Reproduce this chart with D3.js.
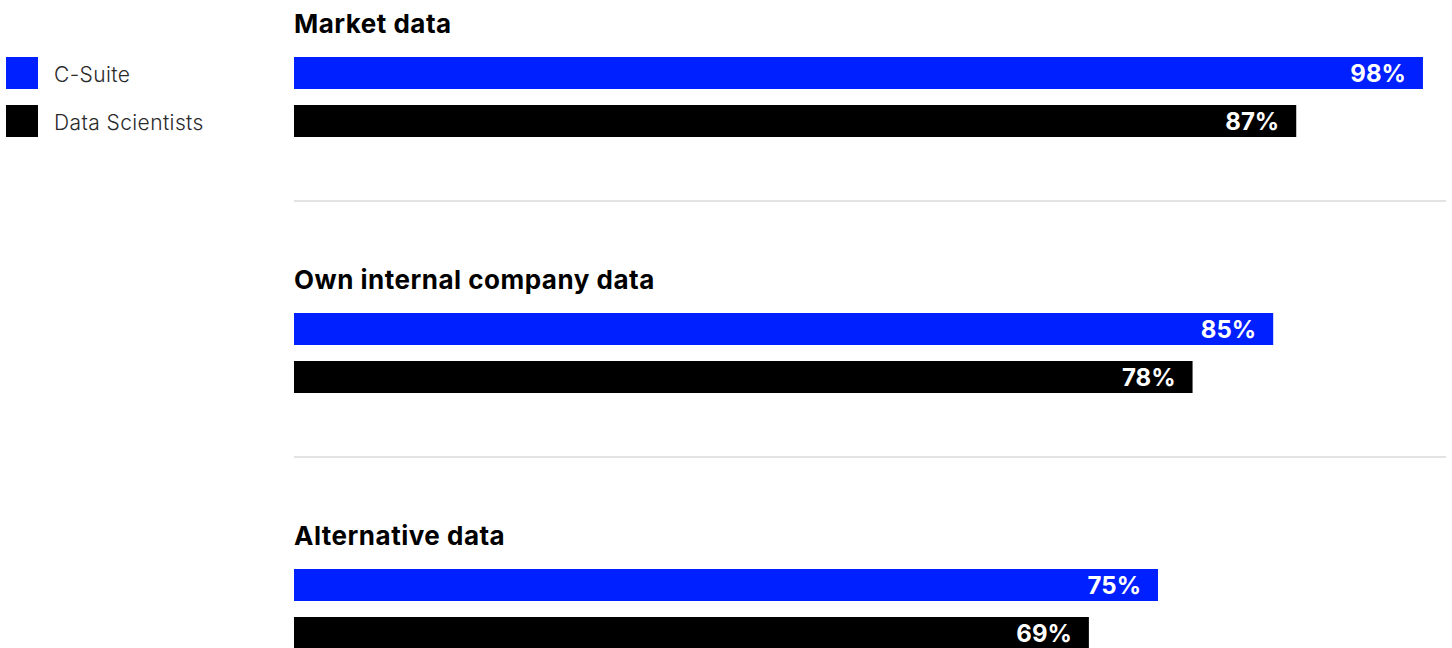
<!DOCTYPE html>
<html>
<head>
<meta charset="utf-8">
<script src="https://cdn.jsdelivr.net/npm/d3@7"></script>
<style>
  html, body { margin: 0; padding: 0; background: #fff; }
  svg { display: block; }
</style>
</head>
<body>
<div id="chart"></div>
<script>
// Data
const categories = ["Market data", "Own internal company data", "Alternative data"];
const seriesNames = ["C-Suite", "Data Scientists"];
const cSuite = [98, 85, 75];
const dataScientists = [87, 78, 69];
const seriesColors = ["#0020ff", "#000000"];

const W = 1452, H = 648;
const svg = d3.select("#chart").append("svg")
  .attr("width", W).attr("height", H);

const fontFamily = "Inter, Lato, 'Noto Sans', sans-serif";

// Layout
const left = 294, right = 1446;
const groupStep = 256;
const barH = 32;

const x = d3.scaleLinear().domain([0, 100]).range([left, right]);
const yGroup = d3.scaleBand().domain(categories).range([0, groupStep * categories.length]);
const ySeries = d3.scaleOrdinal().domain(seriesNames).range([57, 105]);

const rows = categories.map((c, i) => ({ cat: c, values: [cSuite[i], dataScientists[i]] }));

const g = svg.selectAll("g.group").data(rows).join("g")
  .attr("class", "group")
  .attr("transform", d => `translate(0,${yGroup(d.cat)})`);

// Group titles
g.append("text")
  .attr("x", left).attr("y", 33)
  .attr("font-family", fontFamily)
  .attr("font-weight", 700)
  .attr("font-size", 26)
  .attr("letter-spacing", 0.5)
  .attr("fill", "#000")
  .text(d => d.cat);

// Separators between groups
g.filter((d, i) => i < categories.length - 1)
  .append("line")
  .attr("x1", left).attr("x2", right)
  .attr("y1", 201).attr("y2", 201)
  .attr("stroke", "#e3e3e3").attr("stroke-width", 2);

// Bars
const bars = g.selectAll("g.bar")
  .data(d => d.values.map((v, j) => ({ v, s: seriesNames[j], j })))
  .join("g").attr("class", "bar");

bars.append("rect")
  .attr("x", x(0))
  .attr("y", d => ySeries(d.s))
  .attr("width", d => x(d.v) - x(0))
  .attr("height", barH)
  .attr("fill", d => seriesColors[d.j]);

bars.append("text")
  .attr("x", d => x(d.v) - 17)
  .attr("y", d => ySeries(d.s) + barH / 2)
  .attr("dy", "0.38em")
  .attr("text-anchor", "end")
  .attr("font-family", fontFamily)
  .attr("font-weight", 700)
  .attr("font-size", 24)
  .attr("fill", "#fff")
  .text(d => d.v + "%");

// Legend
const legend = svg.selectAll("g.legend").data(seriesNames).join("g")
  .attr("class", "legend")
  .attr("transform", d => `translate(6,${ySeries(d)})`);
legend.append("rect")
  .attr("width", 32).attr("height", 32)
  .attr("fill", (d, i) => seriesColors[i]);
legend.append("text")
  .attr("x", 48).attr("y", 17).attr("dy", "0.36em")
  .attr("font-family", fontFamily)
  .attr("font-weight", 300)
  .attr("font-size", 21)
  .attr("letter-spacing", 0.4)
  .attr("fill", "#2a2a2a")
  .text(d => d);
</script>
</body>
</html>
